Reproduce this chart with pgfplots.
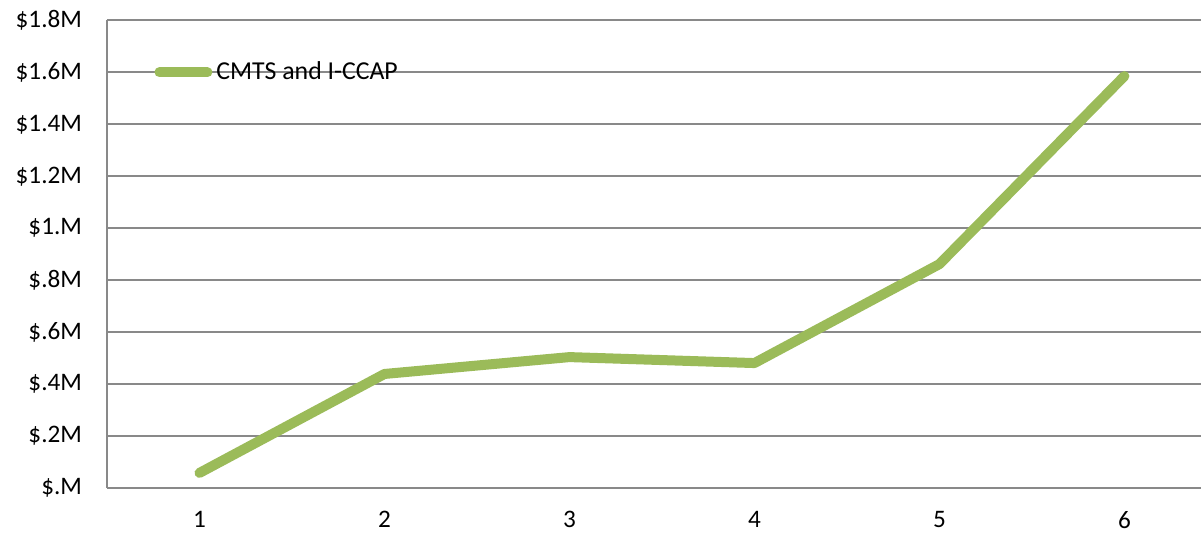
\documentclass[border=0pt]{standalone}
\usepackage{pgfplots}
\pgfplotsset{compat=1.18}
\usepackage{fontspec}
\setmainfont{Carlito}
\definecolor{linegreen}{HTML}{9BBB59}
\definecolor{gridgray}{HTML}{898989}
\begin{document}
\begin{tikzpicture}
\useasboundingbox (0,0) rectangle (600.5pt,267pt);
\begin{axis}[
  at={(53.5pt,23pt)}, anchor=south west,
  scale only axis, width=547pt, height=233.75pt,
  xmin=0.5, xmax=6.414, ymin=0, ymax=1.8,
  axis lines=left, axis line style={gridgray, line width=1pt, -},
  xtick={1,2,3,4,5,6}, xticklabels={1,2,3,4,5,6},
  ytick={0,0.2,0.4,0.6,0.8,1.0,1.2,1.4,1.6,1.8},
  yticklabels={\$.M,\$.2M,\$.4M,\$.6M,\$.8M,\$1.M,\$1.2M,\$1.4M,\$1.6M,\$1.8M},
  ymajorgrids, grid style={gridgray, line width=1pt},
  major tick length=0pt,
  tick label style={font=\fontsize{12.6}{15}\selectfont, text=black},
  yticklabel style={xshift=-9pt},
  xticklabel style={inner sep=0pt, yshift=-11.6pt},
  clip=false,
  legend style={at={(rel axis cs:0.043,0.889)}, anchor=west, draw=none, fill=none, inner sep=0pt,
    font=\fontsize{12.9}{15}\selectfont, text=black},
  legend cell align=left,
  legend image code/.code={\draw[#1, line cap=round] (0pt,0pt) -- (24pt,0pt);},
]
\addplot[linegreen, line width=5pt, line join=round, line cap=round] coordinates {
  (1,0.058) (2,0.439) (3,0.504) (4,0.481) (5,0.862) (6,1.586)
};
\addlegendentry{CMTS and I-CCAP}
\end{axis}
\end{tikzpicture}
\end{document}
